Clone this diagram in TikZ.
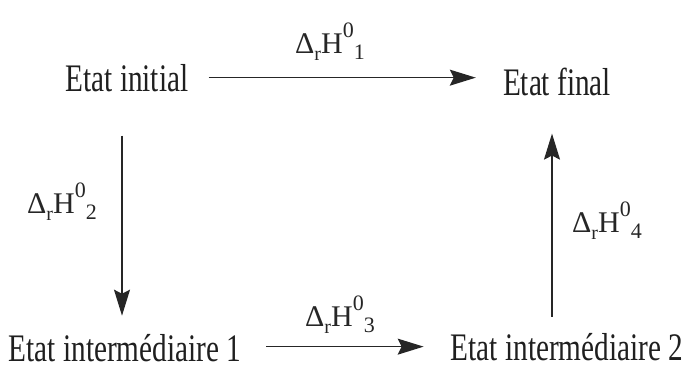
\documentclass[tikz,border=0pt]{standalone}
\usepackage{fontspec}
\setmainfont[FakeStretch=0.75]{Liberation Serif}
\newfontfamily\labfont{Liberation Serif}
\usetikzlibrary{arrows.meta}
\newcommand{\dHlab}[1]{\labfont\fontsize{30}{36}\selectfont Δ\raisebox{-7pt}{\fontsize{20}{24}\selectfont r}H\raisebox{16pt}{\fontsize{22}{26}\selectfont 0}\raisebox{-6pt}{\fontsize{22}{26}\selectfont #1}}
\tikzset{
  state/.style={inner sep=0pt, anchor=base, text=black!88, font=\fontsize{39}{46}\selectfont},
  lab/.style={inner sep=0pt, anchor=base, text=black!85},
  arr/.style={line width=1.5pt, draw=black!85, -{Stealth[length=26pt,width=16pt,inset=4pt]}}
}
\begin{document}
\begin{tikzpicture}[x=1pt,y=-1pt]
\useasboundingbox (0,0) rectangle (684,370);
\node[state] (ini) at (127,91) {Etat initial};
\node[state] (fin) at (557,95) {Etat final};
\node[state] (int1) at (125,361) {Etat intermédiaire 1};
\node[state] (int2) at (567,360) {Etat intermédiaire 2};
\node[lab] (l1) at (330,53) {\dHlab{1}};
\node[lab] (l2) at (62,213) {\dHlab{2}};
\node[lab] (l3) at (340,326) {\dHlab{3}};
\node[lab] (l4) at (607,232) {\dHlab{4}};
\draw[arr, shorten <=20pt, shorten >=27pt] (ini.east) -- (ini.east -| fin.west);
\draw[arr, shorten <=44pt, shorten >=18pt] ([xshift=-5pt]ini.south) -- ([xshift=-5pt]ini.south |- int1.north);
\draw[arr, shorten <=25pt, shorten >=27pt] (int1.east |- int2.west) -- (int2.west);
\draw[arr, shorten <=16pt, shorten >=38pt] ([xshift=-5pt]fin.south |- int2.north) -- ([xshift=-5pt]fin.south);
\end{tikzpicture}
\end{document}
